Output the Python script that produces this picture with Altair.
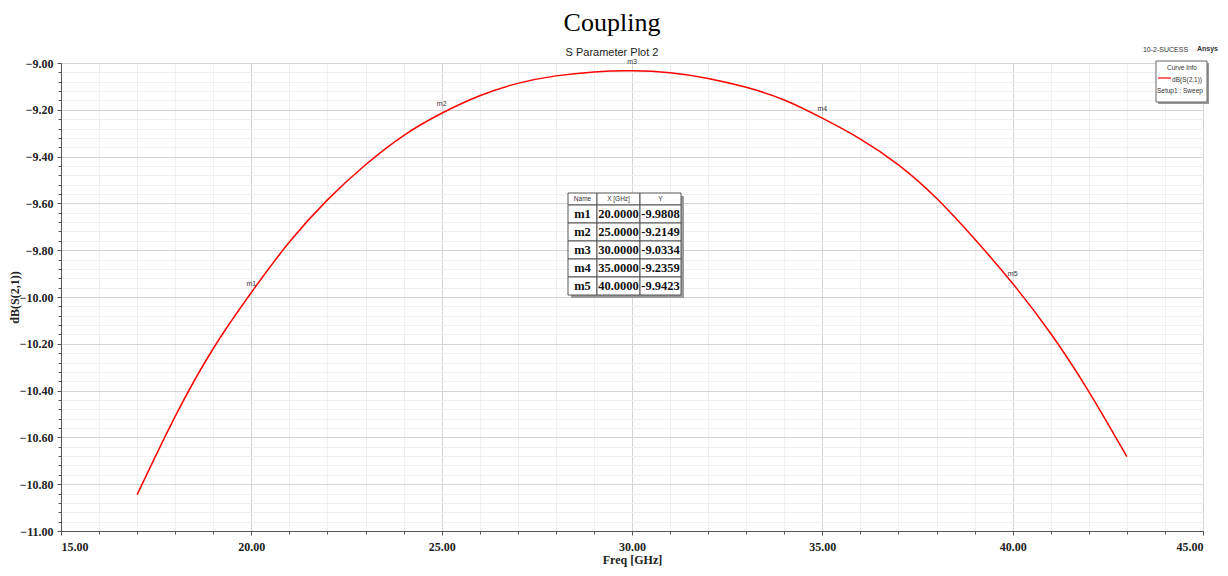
import altair as alt
import pandas as pd

# ---- data ----
freq_ghz = [17, 18, 19, 20, 21, 22, 23, 24, 25, 26, 27, 28, 29, 30,
            31, 32, 33, 34, 35, 36, 37, 38, 39, 40, 41, 42, 43]
s21_db = [-10.845, -10.51, -10.22, -9.9808, -9.765, -9.585, -9.435, -9.31,
          -9.2149, -9.14, -9.087, -9.055, -9.038, -9.0334, -9.042, -9.066,
          -9.104, -9.158, -9.2359, -9.325, -9.435, -9.578, -9.752, -9.9423,
          -10.156, -10.404, -10.682]
marker_names = ["m1", "m2", "m3", "m4", "m5"]
marker_freq = [20.0, 25.0, 30.0, 35.0, 40.0]
marker_db = [-9.9808, -9.2149, -9.0334, -9.2359, -9.9423]
table_header = ["Name", "X [GHz]", "Y"]

x_major = [15, 20, 25, 30, 35, 40, 45]
x_minor = list(range(15, 46))
y_major = [-11.0, -10.8, -10.6, -10.4, -10.2, -10.0, -9.8, -9.6, -9.4, -9.2, -9.0]
y_minor = [round(-11 + 0.04 * i, 2) for i in range(51)]

W, H = 1142, 468
SERIF = "Liberation Serif"
SANS = "Liberation Sans"

curve = pd.DataFrame({"f": freq_ghz, "db": s21_db})
markers = pd.DataFrame({"name": marker_names, "f": marker_freq, "db": marker_db})
table_rows = pd.DataFrame({
    "name": marker_names,
    "xs": [f"{v:.4f}" for v in marker_freq],
    "ys": [f"{v:.4f}" for v in marker_db],
    "row": list(range(1, 6)),
})
header_df = pd.DataFrame({"txt": table_header, "col": [0, 1, 2]})
cells = pd.DataFrame({"row": list(range(0, 6))})

xs = alt.Scale(domain=[15, 45], nice=False, zero=False)
ys = alt.Scale(domain=[-11, -9], nice=False, zero=False)

minor = alt.Chart(curve).mark_line(opacity=0).encode(
    x=alt.X("f:Q", scale=xs, axis=alt.Axis(
        values=x_minor, labels=False, title=None, grid=True, gridColor="#f0f0f0",
        tickSize=3, tickColor="#555", domain=False, orient="bottom")),
    y=alt.Y("db:Q", scale=ys, axis=alt.Axis(
        values=y_minor, labels=False, title=None, grid=True, gridColor="#f0f0f0",
        tickSize=3, tickColor="#555", domain=False, orient="left")),
)

line = alt.Chart(curve).mark_line(color="#ff0000", strokeWidth=1.5, interpolate="natural").encode(
    x=alt.X("f:Q", scale=xs, axis=alt.Axis(
        values=x_major, format=".2f", title="Freq [GHz]", grid=True, gridColor="#d4d4d4",
        tickSize=4, tickColor="#555", domainColor="#555", orient="bottom",
        labelFont=SERIF, labelFontWeight="bold", labelFontSize=12, labelColor="#222",
        labelPadding=6, titleFont=SERIF, titleFontWeight="bold", titleFontSize=12,
        titleColor="#222", titlePadding=2)),
    y=alt.Y("db:Q", scale=ys, axis=alt.Axis(
        values=y_major, format=".2f", title="dB(S(2,1))", grid=True, gridColor="#d4d4d4",
        tickSize=4, tickColor="#555", domainColor="#555", orient="left",
        labelFont=SERIF, labelFontWeight="bold", labelFontSize=12, labelColor="#222",
        labelPadding=4, titleFont=SERIF, titleFontWeight="bold", titleFontSize=12,
        titleColor="#222", titlePadding=-2)),
)

mlabels = alt.Chart(markers).mark_text(fontSize=7, font=SANS, color="#333", dy=-9).encode(
    x=alt.X("f:Q", scale=xs, axis=None), y=alt.Y("db:Q", scale=ys, axis=None), text="name:N")

# ---- marker table ----
ROWY = "datum.row == 0 ? 130 : 142 + (datum.row - 1) * 18"
ROWY2 = "datum.row == 0 ? 142 : 160 + (datum.row - 1) * 18"
tbl_shadow = alt.Chart(cells).transform_aggregate(n="count()").mark_rect(color="#9a9a9a").encode(
    x=alt.value(510), x2=alt.value(623), y=alt.value(133), y2=alt.value(235))
col_edges = [(507, 536), (536, 579), (579, 620)]
cell_layers = []
for (a, b) in col_edges:
    cell_layers.append(
        alt.Chart(cells).transform_calculate(py=ROWY, py2=ROWY2)
        .mark_rect(fill="white", stroke="#555", strokeWidth=1)
        .encode(x=alt.value(a), x2=alt.value(b),
                y=alt.Y("py:Q", scale=None, axis=None), y2="py2:Q"))
header_txt = alt.Chart(header_df).transform_calculate(
    px="datum.col == 0 ? 521.5 : (datum.col == 1 ? 557.5 : 599.5)"
).mark_text(fontSize=6.5, font=SANS, color="#333", baseline="middle").encode(
    x=alt.X("px:Q", scale=None, axis=None), y=alt.value(136), text="txt:N")
row_layers = []
for field, cx in [("name", 521.5), ("xs", 557.5), ("ys", 599.5)]:
    row_layers.append(
        alt.Chart(table_rows).transform_calculate(py="151 + (datum.row - 1) * 18")
        .mark_text(fontSize=12.5, font=SERIF, fontWeight="bold", color="#111", baseline="middle")
        .encode(x=alt.value(cx), y=alt.Y("py:Q", scale=None, axis=None), text=f"{field}:N"))

# ---- curve info box ----
one = pd.DataFrame({"k": [0]})
box_shadow = alt.Chart(one).mark_rect(color="#9a9a9a").encode(
    x=alt.value(1097), x2=alt.value(1148), y=alt.value(0), y2=alt.value(41))
box = alt.Chart(one).mark_rect(fill="white", stroke="#666", strokeWidth=1).encode(
    x=alt.value(1095), x2=alt.value(1146), y=alt.value(-2), y2=alt.value(39))
box_title = alt.Chart(one).mark_text(fontSize=6.5, font=SANS, color="#333").encode(
    x=alt.value(1121), y=alt.value(5), text=alt.value("Curve Info"))
box_line = alt.Chart(one).mark_rule(color="#ff0000", strokeWidth=1.2).encode(
    x=alt.value(1097), x2=alt.value(1110), y=alt.value(15))
box_trace = alt.Chart(one).mark_text(fontSize=6.5, font=SANS, color="#333", align="right").encode(
    x=alt.value(1141), y=alt.value(17), text=alt.value("dB(S(2,1))"))
box_setup = alt.Chart(one).mark_text(fontSize=6.5, font=SANS, color="#333", align="left").encode(
    x=alt.value(1096), y=alt.value(28), text=alt.value("Setup1 : Sweep"))
proj = alt.Chart(one).mark_text(fontSize=7, font=SANS, color="#333").encode(
    x=alt.value(1104.5), y=alt.value(-13), text=alt.value("10-2-SUCESS"))
ansys = alt.Chart(one).mark_text(fontSize=7, font=SANS, fontWeight="bold", color="#333", align="left").encode(
    x=alt.value(1136), y=alt.value(-14), text=alt.value("Ansys"))

chart = alt.layer(
    minor, line, mlabels, tbl_shadow, *cell_layers, header_txt, *row_layers,
    box_shadow, box, box_title, box_line, box_trace, box_setup, proj, ansys,
).resolve_axis(x="independent", y="independent").properties(
    width=W, height=H,
    autosize=alt.AutoSizeParams(type="none"),
    padding={"left": 53, "top": 55, "right": 17, "bottom": 37},
    title=alt.TitleParams(
        text="Coupling", subtitle="S Parameter Plot 2", anchor="middle",
        font=SERIF, fontSize=26, fontWeight="normal", color="#000",
        subtitleFont=SANS, subtitleFontSize=11, subtitleColor="#222",
        subtitlePadding=11, offset=-13, dx=-20),
).configure_view(stroke="#555", strokeWidth=1).configure(background="white")

chart.save("out.html", embed_options={"renderer": "svg", "actions": False})
